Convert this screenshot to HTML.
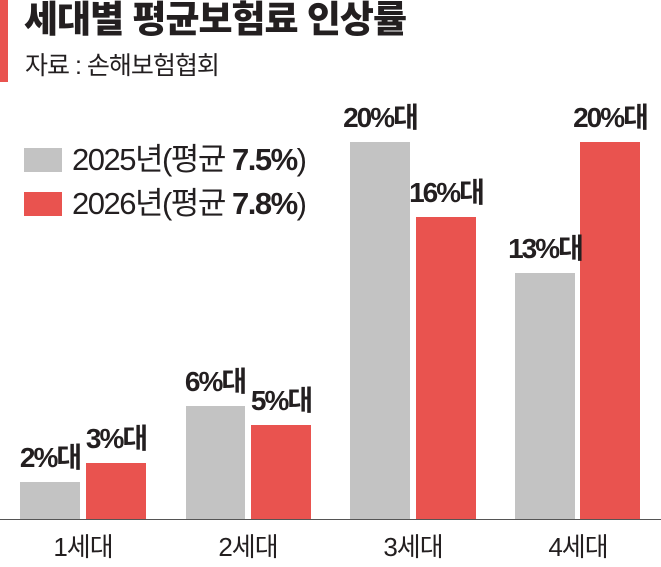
<!DOCTYPE html>
<html><head><meta charset="utf-8"><style>
body{margin:0;width:661px;height:567px;background:#fff;position:relative;overflow:hidden;font-family:"Liberation Sans","Noto Sans CJK KR",sans-serif;color:#231f20}
div{position:absolute}
.t{white-space:nowrap;line-height:1}
.g{background:#c3c3c3}.r{background:#e9534f}
.v{font-weight:bold;font-size:28px;letter-spacing:-2px;transform:translateX(-50%)}
.x{font-size:26px;letter-spacing:-1px;top:534px;transform:translateX(-50%)}
</style></head><body>
<div style="left:0;top:0;width:8px;height:82px;background:#e9534f"></div>
<div class="t" style="left:24px;top:1px;font-size:37px;font-weight:900;letter-spacing:-1px">세대별 평균보험료 인상률</div>
<div class="t" style="left:25px;top:54px;font-size:25px;letter-spacing:-1px">자료 : 손해보험협회</div>
<div class="g" style="left:24px;top:148px;width:38px;height:24px"></div>
<div class="r" style="left:24px;top:192px;width:38px;height:24px"></div>
<div class="t" style="left:72px;top:144px;font-size:31px;letter-spacing:-1.5px">2025년(평균 <b>7.5%</b>)</div>
<div class="t" style="left:72px;top:188px;font-size:31px;letter-spacing:-1.5px">2026년(평균 <b>7.8%</b>)</div>
<div style="left:0;top:519px;width:661px;height:1px;background:#555"></div>
<div class="g" style="left:20px;top:482px;width:60px;height:37px"></div>
<div class="r" style="left:86px;top:463px;width:60px;height:56px"></div>
<div class="g" style="left:186px;top:406px;width:59px;height:113px"></div>
<div class="r" style="left:251px;top:425px;width:60px;height:94px"></div>
<div class="g" style="left:350px;top:142px;width:60px;height:377px"></div>
<div class="r" style="left:416px;top:217px;width:60px;height:302px"></div>
<div class="g" style="left:515px;top:273px;width:60px;height:246px"></div>
<div class="r" style="left:580px;top:142px;width:60px;height:377px"></div>
<div class="t v" style="left:50px;top:444px">2%대</div>
<div class="t v" style="left:116px;top:425px">3%대</div>
<div class="t v" style="left:215px;top:368px">6%대</div>
<div class="t v" style="left:281px;top:387px">5%대</div>
<div class="t v" style="left:380px;top:104px">20%대</div>
<div class="t v" style="left:446px;top:179px">16%대</div>
<div class="t v" style="left:545px;top:235px">13%대</div>
<div class="t v" style="left:610px;top:104px">20%대</div>
<div class="t x" style="left:83px">1세대</div>
<div class="t x" style="left:248px">2세대</div>
<div class="t x" style="left:413px">3세대</div>
<div class="t x" style="left:578px">4세대</div>
</body></html>
